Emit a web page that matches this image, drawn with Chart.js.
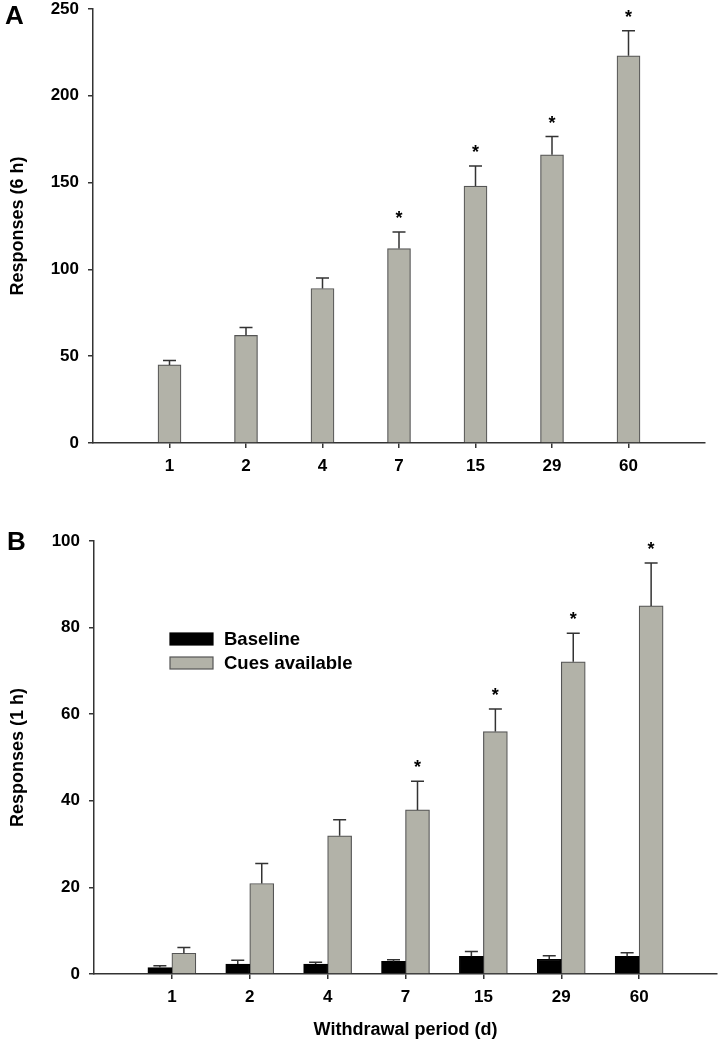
<!DOCTYPE html>
<html>
<head>
<meta charset="utf-8">
<script src="https://cdn.jsdelivr.net/npm/chart.js@4.4.1/dist/chart.umd.min.js"></script>
<style>
  body { margin: 0; background: #fff; width: 718px; height: 1050px; position: relative; overflow: hidden; font-family: 'Liberation Sans', Arial, sans-serif; }
  canvas { position: absolute; left: 0; }
  #chartA { top: 0; }
  #chartB { top: 490px; }
  .panel { position: absolute; font-weight: bold; font-size: 26px; line-height: 26px; color: #000; }
</style>
</head>
<body>
<canvas id="chartA" width="718" height="490"></canvas>
<canvas id="chartB" width="718" height="560"></canvas>
<div class="panel" style="left:5px;top:2px">A</div>
<div class="panel" style="left:7px;top:528px">B</div>
<script>
const periods = ['1', '2', '4', '7', '15', '29', '60'];
const slots = [1, 2, 3, 4, 5, 6, 7];

// panel A: responses over 6 h
const sixHourMeans = [45, 62, 89, 112, 148, 166, 223];
const sixHourErrors = [2.5, 4.5, 6, 9.5, 11.5, 10.5, 14.5];
const sixHourStars = [false, false, false, true, true, true, true];
const yTicksA = [0, 50, 100, 150, 200, 250];

// panel B: responses over 1 h
const baselineMeans = [1.5, 2.3, 2.3, 2.9, 4.1, 3.4, 4.1];
const baselineErrors = [0.4, 0.9, 0.4, 0.4, 1.1, 0.8, 0.8];
const cueMeans = [4.8, 20.9, 31.9, 37.9, 56, 72.1, 85];
const cueErrors = [1.3, 4.6, 3.7, 6.6, 5.2, 6.6, 9.9];
const cueStars = [false, false, false, true, true, true, true];
const yTicksB = [0, 20, 40, 60, 80, 100];

const FONT = "'Liberation Sans', Arial, sans-serif";
const INK = '#333';
const GRAY = '#b2b2a8';

Chart.defaults.font.family = FONT;
Chart.defaults.color = '#000';

const toPoints = (means) => means.map((y, i) => ({ x: slots[i], y }));

const errorBars = {
  id: 'errorBars',
  afterDatasetsDraw(chart) {
    const { ctx } = chart;
    const y = chart.scales.y;
    ctx.save();
    chart.data.datasets.forEach((ds, i) => {
      const meta = chart.getDatasetMeta(i);
      meta.data.forEach((bar, j) => {
        const top = y.getPixelForValue(ds.data[j].y + ds.errors[j]);
        ctx.strokeStyle = INK;
        ctx.lineWidth = 1.5;
        ctx.beginPath();
        ctx.moveTo(bar.x, bar.y);
        ctx.lineTo(bar.x, top);
        ctx.moveTo(bar.x - 6.5, top);
        ctx.lineTo(bar.x + 6.5, top);
        ctx.stroke();
        if (ds.stars && ds.stars[j]) {
          ctx.fillStyle = '#000';
          ctx.font = 'bold 18px ' + FONT;
          ctx.textAlign = 'center';
          ctx.textBaseline = 'alphabetic';
          ctx.fillText('*', bar.x, top - 8);
        }
      });
    });
    ctx.restore();
  },
};

const boxLegend = {
  id: 'boxLegend',
  afterDraw(chart, args, opts) {
    if (!opts.show) return;
    const { ctx } = chart;
    ctx.save();
    chart.data.datasets.forEach((ds, i) => {
      const y = opts.top + i * opts.gap;
      ctx.fillStyle = ds.backgroundColor;
      ctx.fillRect(opts.left, y, opts.boxWidth, opts.boxHeight);
      ctx.strokeStyle = ds.borderColor;
      ctx.lineWidth = 1.2;
      ctx.strokeRect(opts.left, y, opts.boxWidth, opts.boxHeight);
      ctx.fillStyle = '#000';
      ctx.font = 'bold 18.5px ' + FONT;
      ctx.textAlign = 'left';
      ctx.textBaseline = 'middle';
      ctx.fillText(ds.label, opts.left + opts.boxWidth + 11, y + opts.boxHeight / 2 + 1);
    });
    ctx.restore();
  },
};

function axes(yTicks, yTitle, leftWidth, bottomHeight, xTitle) {
  const grid = { drawOnChartArea: false, drawTicks: true, tickLength: 5, color: INK, lineWidth: 1.5, offset: false };
  const border = { display: true, color: INK, width: 1.5 };
  const tickFont = { size: 17, weight: 'bold', lineHeight: 1 };
  const titleFont = { size: 18, weight: 'bold', lineHeight: 1.2 };
  return {
    x: {
      type: 'linear',
      min: 0,
      max: 8,
      offset: false,
      grid,
      border,
      afterBuildTicks: (s) => { s.ticks = slots.map((value) => ({ value })); },
      ticks: { font: tickFont, padding: 10, callback: (v) => periods[v - 1] },
      title: xTitle
        ? { display: true, text: xTitle, font: titleFont, padding: { bottom: 9 } }
        : { display: false },
      afterFit: (s) => {
        s.height = bottomHeight;
        s.paddingLeft = 0;
        s.paddingRight = 0;
      },
    },
    y: {
      min: yTicks[0],
      max: yTicks[yTicks.length - 1],
      grid,
      border,
      afterBuildTicks: (s) => { s.ticks = yTicks.map((value) => ({ value })); },
      ticks: { font: tickFont, padding: 9 },
      title: { display: true, text: yTitle, font: titleFont, padding: { top: 7 } },
      afterFit: (s) => {
        s.width = leftWidth;
        s.paddingTop = 0;
        s.paddingBottom = 0;
      },
    },
  };
}

new Chart(document.getElementById('chartA'), {
  type: 'bar',
  data: {
    datasets: [
      {
        label: 'Responses',
        data: toPoints(sixHourMeans),
        errors: sixHourErrors,
        stars: sixHourStars,
        backgroundColor: GRAY,
        borderColor: '#555',
        borderWidth: 1.2,
        barThickness: 23,
      },
    ],
  },
  options: {
    responsive: false,
    animation: false,
    events: [],
    layout: { padding: { top: 9, right: 13, left: 0, bottom: 0 } },
    plugins: { legend: { display: false }, tooltip: { enabled: false }, boxLegend: { show: false } },
    scales: axes(yTicksA, 'Responses (6 h)', 93, 47, null),
  },
  plugins: [errorBars, boxLegend],
});

new Chart(document.getElementById('chartB'), {
  type: 'bar',
  data: {
    datasets: [
      {
        label: 'Baseline',
        data: toPoints(baselineMeans),
        errors: baselineErrors,
        backgroundColor: '#000',
        borderColor: '#000',
        borderWidth: 1.2,
        barThickness: 24,
      },
      {
        label: 'Cues available',
        data: toPoints(cueMeans),
        errors: cueErrors,
        stars: cueStars,
        backgroundColor: GRAY,
        borderColor: '#555',
        borderWidth: 1.2,
        barThickness: 24,
      },
    ],
  },
  options: {
    responsive: false,
    animation: false,
    events: [],
    layout: { padding: { top: 51, right: 1, left: 0, bottom: 0 } },
    plugins: {
      legend: { display: false },
      tooltip: { enabled: false },
      boxLegend: { show: true, left: 170, top: 143, gap: 24, boxWidth: 43, boxHeight: 12 },
    },
    scales: axes(yTicksB, 'Responses (1 h)', 94, 76, 'Withdrawal period (d)'),
  },
  plugins: [errorBars, boxLegend],
});
</script>
</body>
</html>
